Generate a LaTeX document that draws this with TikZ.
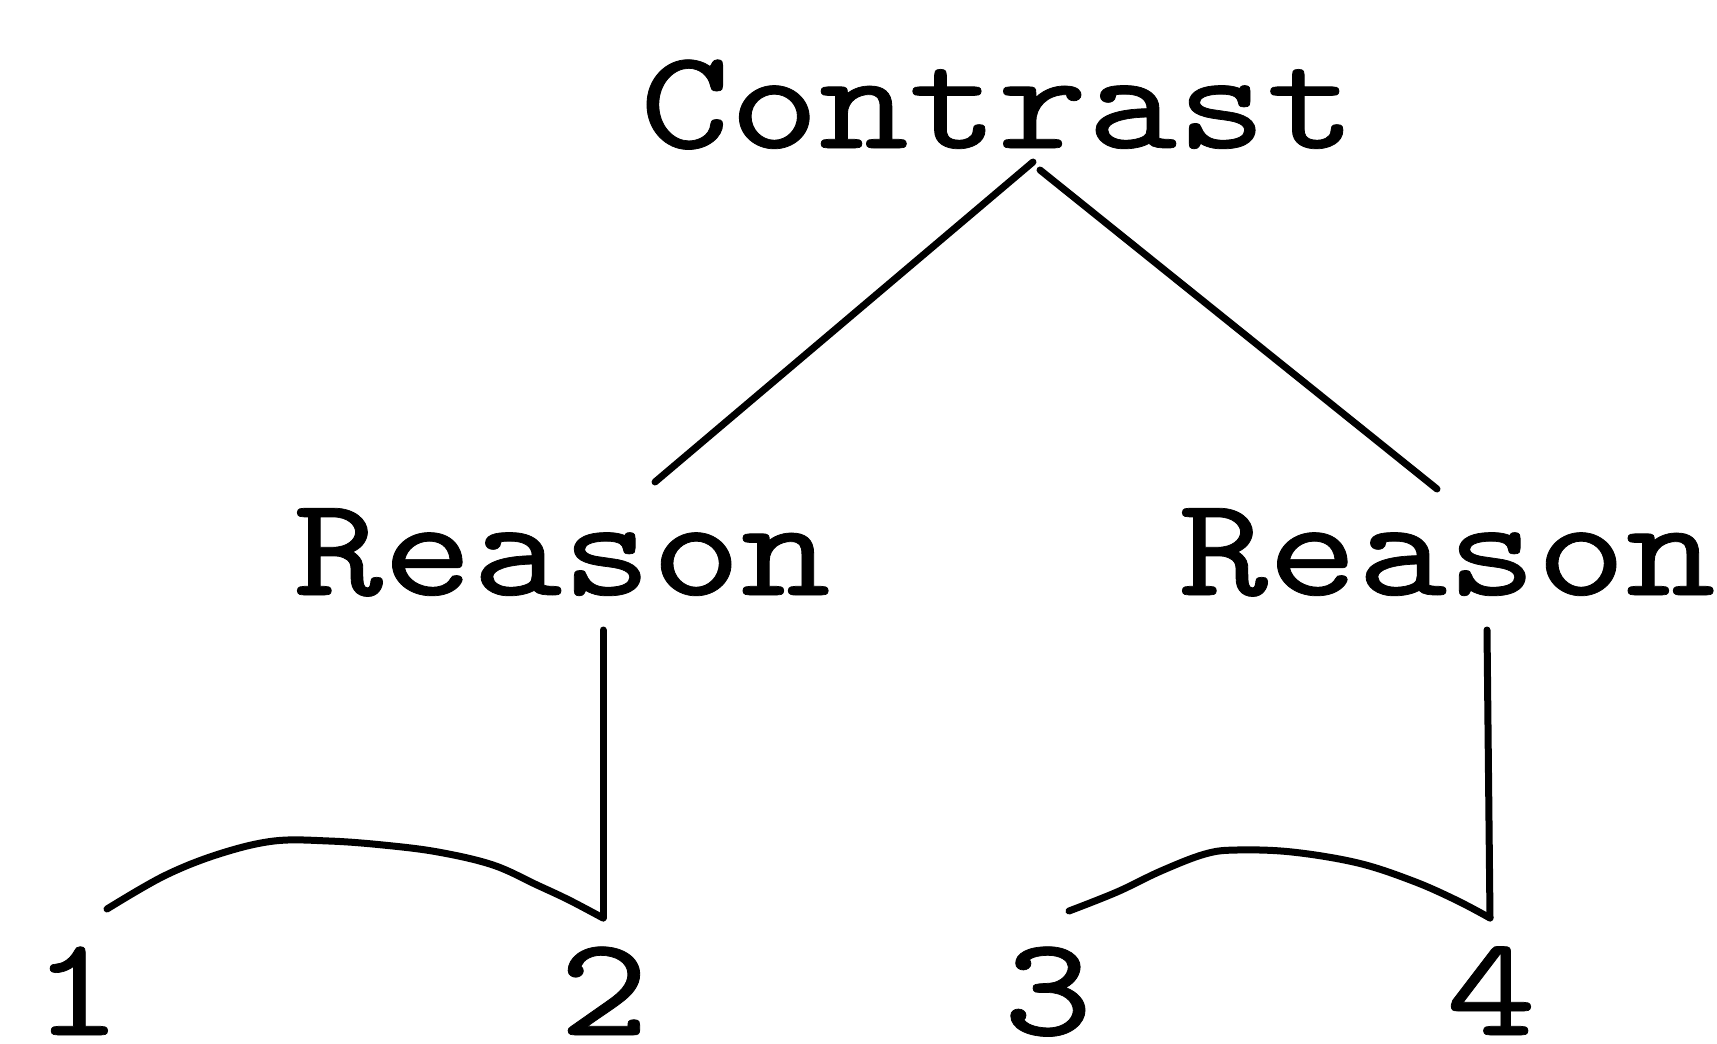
\documentclass[tikz,border=0pt]{standalone}
\usepackage{fontspec}
\newfontfamily\boldtt[FakeBold=0.5]{lmmono10-regular.otf}
\newcommand{\widett}[1]{\scalebox{1.2}[1]{#1}}
\begin{document}
\begin{tikzpicture}[x=1pt,y=-1pt,
  lbl/.style={anchor=base,inner sep=0pt,font=\fontsize{142}{150}\boldtt},
  edge/.style={line width=7pt,line cap=round,line join=round}]
\useasboundingbox (0,0) rectangle (1717,1044);
\node[lbl] (contrast) at (998,148) {\widett{Contrast}};
\node[lbl] (reasonL) at (562,595) {\widett{Reason}};
\node[lbl] (reasonR) at (1447,595) {\widett{Reason}};
\node[lbl] (n1) at (77,1035) {\widett{1}};
\node[lbl] (n2) at (604,1035) {\widett{2}};
\node[lbl] (n3) at (1048,1035) {\widett{3}};
\node[lbl] (n4) at (1491,1035) {\widett{4}};
\coordinate (apexL) at (1033,162);
\coordinate (apexR) at (1040,170);
\coordinate (rLtop) at (655,482);
\coordinate (rRtop) at (1437,489);
\coordinate (rLbot) at (603,630);
\coordinate (rRbot) at (1487,630);
\coordinate (n1top) at (107,909);
\coordinate (n2top) at (603,918);
\coordinate (n3top) at (1069,911);
\coordinate (n4top) at (1490,918);
\draw[edge] (apexL) -- (rLtop);
\draw[edge] (apexR) -- (rRtop);
\draw[edge] (rLbot) -- (n2top);
\draw[edge] (rRbot) -- (n4top);
\draw[edge] plot[smooth,tension=0.6] coordinates {(n1top) (164,876) (219,854) (274,841) (329,841) (383,845) (438,852) (493,865) (537,885) (569,900) (n2top)};
\draw[edge] plot[smooth,tension=0.6] coordinates {(n3top) (1117,892) (1161,871) (1205,854) (1237,850) (1292,852) (1358,863) (1413,881) (1456,900) (n4top)};
\end{tikzpicture}
\end{document}
